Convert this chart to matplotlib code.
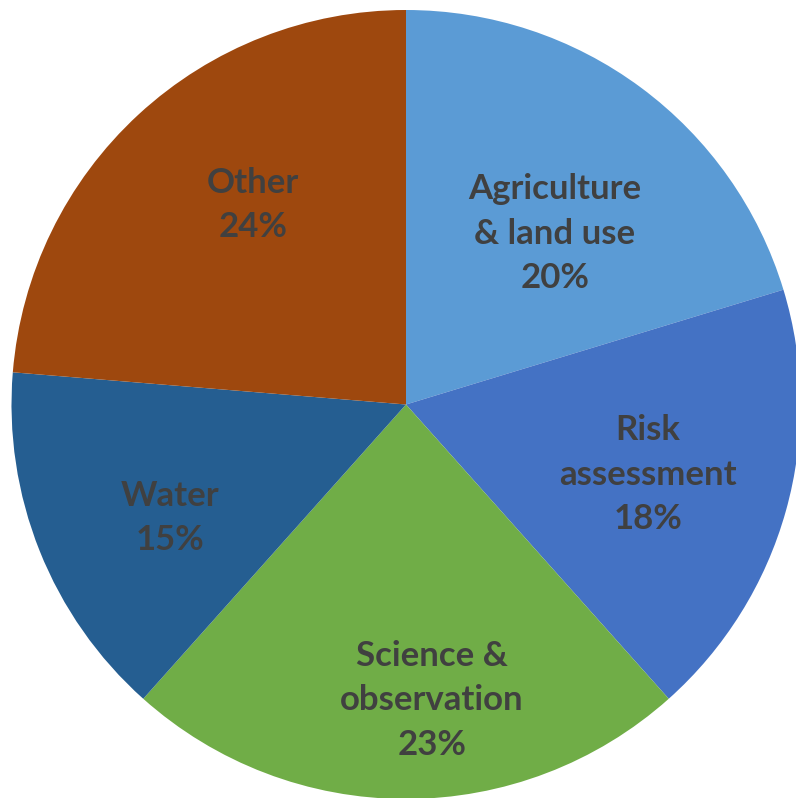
import numpy as np
import matplotlib
matplotlib.use("Agg")
import matplotlib.pyplot as plt

categories = ["Agriculture\n& land use", "Risk\nassessment", "Science &\nobservation", "Water", "Other"]
values = [20.3, 18.1, 23.2, 14.7, 23.7]
colors = ["#5B9BD5", "#4472C4", "#70AD47", "#255E91", "#9E480E"]
# label radial position (fraction of radius) and angular nudge (degrees)
label_r = [0.574, 0.639, 0.752, 0.664, 0.637]
label_dtheta = [-4.6, -0.5, 5.0, 3.9, -5.2]

W, H = 796, 798
cx, cy, R = 406, 404.5, 394.5

fig = plt.figure(figsize=(W / 100, H / 100), dpi=100)
ax = fig.add_axes([0, 0, 1, 1])

wedges, _ = ax.pie(values, colors=colors, startangle=90, counterclock=False,
                   radius=R, center=(0, 0), frame=True,
                   wedgeprops=dict(linewidth=0))
ax.set_xlim(-cx, W - cx)
ax.set_ylim(-(H - cy), cy)
ax.axis("off")

total = sum(values)
for w, lab, v, rf, dt in zip(wedges, categories, values, label_r, label_dtheta):
    ang = np.deg2rad((w.theta1 + w.theta2) / 2 + dt)
    x, y = rf * R * np.cos(ang), rf * R * np.sin(ang)
    ax.text(x, y, f"{lab}\n{round(v / total * 100)}%", ha="center", va="center",
            fontsize=25, fontweight="bold", color="#404040", family=["Lato", "DejaVu Sans"],
            linespacing=1.48)

fig.savefig("out.png", dpi=100)
